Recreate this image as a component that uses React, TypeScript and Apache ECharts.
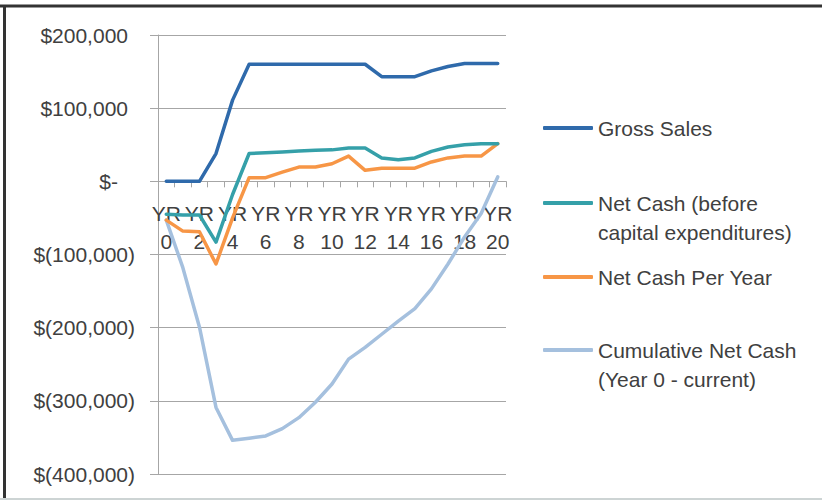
import React, { useEffect, useRef } from "react";
import * as echarts from "echarts";

const years = [
  "YR\n0", "YR\n1", "YR\n2", "YR\n3", "YR\n4", "YR\n5", "YR\n6", "YR\n7", "YR\n8", "YR\n9", "YR\n10",
  "YR\n11", "YR\n12", "YR\n13", "YR\n14", "YR\n15", "YR\n16", "YR\n17", "YR\n18", "YR\n19", "YR\n20",
];

const grossSales = [
  0, 0, 0, 38000, 111000, 160000, 160000, 160000, 160000, 160000, 160000,
  160000, 160000, 143000, 143000, 143000, 151000, 157000, 161000, 161000, 161000,
];

const netCashBeforeCapex = [
  -45000, -46000, -46000, -83000, -18000, 38000, 39000, 40000, 41500, 42500, 43000,
  45500, 45500, 32000, 29500, 32000, 41000, 47000, 50000, 51500, 51500,
];

const netCashPerYear = [
  -53000, -68000, -69000, -113000, -50000, 5000, 5000, 12500, 19500, 19500, 24000,
  34500, 15000, 18000, 18000, 18000, 26500, 32000, 34500, 34500, 51500,
];

const cumulativeNetCash = [
  -53000, -118000, -199000, -309000, -354000, -351000, -348000, -338000, -323000, -302000, -277000,
  -243000, -227000, -209000, -191000, -174000, -147000, -113000, -76000, -44000, 6000,
];

const seriesNames = [
  "Gross Sales",
  "Net Cash (before\ncapital expenditures)",
  "Net Cash Per Year",
  "Cumulative Net Cash\n(Year 0 - current)",
];

const seriesColors = ["#2f6aab", "#35a0a9", "#f79646", "#a5c0de"];

const yTicks = { min: -400000, max: 200000, interval: 100000 };

const FONT = "'Liberation Sans', Arial, sans-serif";
const TEXT = "#404040";
const AXIS = "#a6a6a6";

function fmtY(v: number): string {
  if (v === 0) return "{z|$-}";
  const s = Math.abs(v).toLocaleString("en-US");
  if (v > 0) return "{p|$" + s + "}";
  return "{n|$(" + s + ")}";
}

export default function App() {
  const ref = useRef<HTMLDivElement>(null);

  useEffect(() => {
    if (!ref.current) return;
    const chart = echarts.init(ref.current, undefined, { renderer: "svg" });
    const dataSets = [grossSales, netCashBeforeCapex, netCashPerYear, cumulativeNetCash];
    const legendTops = [113.5, 159.5, 262.5, 306.5];
    const twoLine = [false, true, false, true];

    const gridTop = 35;
    const gridBottom = 26;
    const plotH = 500 - gridTop - gridBottom;
    const zeroOffset = -plotH * (0 - yTicks.min) / (yTicks.max - yTicks.min);

    const labelRich = {
      p: { fontFamily: FONT, fontSize: 21, color: TEXT, padding: [0, 7, 0, 0] },
      z: { fontFamily: FONT, fontSize: 21, color: TEXT, padding: [0, 17, 0, 0] },
      n: { fontFamily: FONT, fontSize: 21, color: TEXT },
    };

    chart.setOption({
      animation: false,
      backgroundColor: "#ffffff",
      grid: {
        left: 158,
        right: 316,
        top: gridTop,
        bottom: gridBottom,
        containLabel: false,
        outerBoundsMode: "none",
      },
      xAxis: {
        type: "category",
        data: years,
        boundaryGap: true,
        offset: zeroOffset,
        axisLine: { show: true, onZero: false, lineStyle: { color: AXIS, width: 1 } },
        axisTick: { show: true, interval: 0, length: 6, lineStyle: { color: AXIS } },
        axisLabel: {
          interval: 1,
          margin: 18,
          fontFamily: FONT,
          fontSize: 21,
          lineHeight: 28,
          color: TEXT,
        },
        splitLine: { show: false },
        z: 1,
      },
      yAxis: {
        type: "value",
        min: yTicks.min,
        max: yTicks.max,
        interval: yTicks.interval,
        axisLine: { show: true, lineStyle: { color: AXIS, width: 1 } },
        axisTick: { show: true, length: 8, lineStyle: { color: AXIS } },
        axisLabel: {
          margin: 23,
          formatter: fmtY,
          rich: labelRich,
          fontFamily: FONT,
          fontSize: 21,
          color: TEXT,
        },
        splitLine: { show: true, lineStyle: { color: AXIS, width: 1 } },
      },
      legend: seriesNames.map((name, i) => ({
        data: [name],
        orient: "vertical",
        left: 543,
        top: legendTops[i],
        padding: 0,
        itemWidth: 50,
        itemHeight: 4,
        icon: "roundRect",
        selectedMode: false,
        formatter: (n: string) => (twoLine[i] ? " \n" + n : n),
        textStyle: {
          fontFamily: FONT,
          fontSize: 21,
          lineHeight: 29,
          color: TEXT,
        },
      })),
      series: seriesNames.map((name, i) => ({
        name,
        type: "line",
        data: dataSets[i],
        showSymbol: false,
        symbol: "none",
        color: seriesColors[i],
        lineStyle: { width: 3.5, color: seriesColors[i], cap: "round", join: "round" },
        z: 10 - i,
      })),
      graphic: [
        { type: "line", shape: { x1: 0, y1: 6, x2: 822, y2: 6 }, style: { stroke: "#333333", lineWidth: 3 } },
        { type: "line", shape: { x1: 4.5, y1: 5, x2: 4.5, y2: 500 }, style: { stroke: "#333333", lineWidth: 3 } },
        { type: "line", shape: { x1: 0, y1: 499, x2: 822, y2: 499 }, style: { stroke: "#cdd4d4", lineWidth: 2 } },
      ],
    });

    return () => {
      chart.dispose();
    };
  }, []);

  return (
    <div
      ref={ref}
      style={{ position: "fixed", left: 0, top: 0, width: 822, height: 500, background: "#fff" }}
    />
  );
}
